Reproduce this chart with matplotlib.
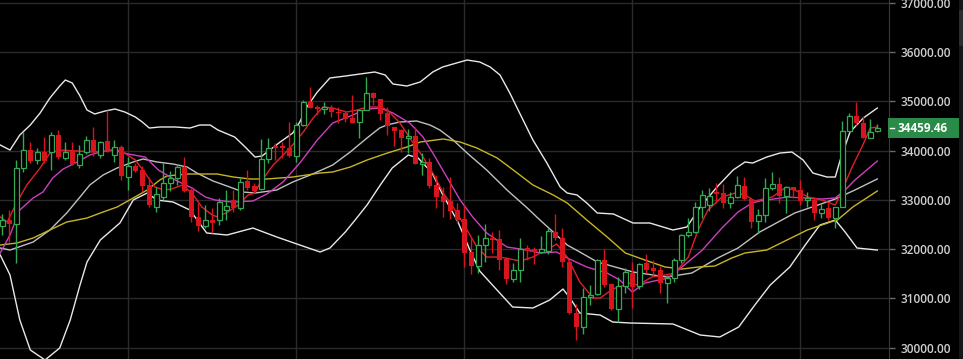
import matplotlib.pyplot as plt
from matplotlib.patches import Rectangle

# candles, one per session
opens = [32471, 32593, 32512, 33649, 34014, 33811, 33974, 33974, 34319, 33852,
         33994, 33710, 33974, 34218, 33913, 34197, 33913, 34075, 33466, 33690,
         33608, 33304, 32857, 33060, 33344, 33446, 33669, 33202, 32654, 32471,
         32593, 32593, 32796, 32999, 32836, 33385, 33283, 33222, 33832, 34096,
         34096, 34055, 33893, 34522, 34989, 34888, 34857, 34867, 34786, 34766,
         34664, 34583, 34827, 35172, 35050, 34766, 34482, 34421, 34268, 34299,
         33730, 33771, 33304, 33080, 32979, 32796, 32613, 31943, 31658, 32085,
         32227, 32207, 31801, 31394, 31577, 32024, 32004, 31943, 31963, 32349,
         32227, 31740, 30704, 30420, 31029, 31090, 31780, 31293, 30785, 31252,
         31516, 31252, 31719, 31618, 31577, 31313, 31415, 31780, 32288, 32349,
         32857, 32897, 33161, 33141, 32938, 33060, 33283, 33019, 32572, 32694,
         33243, 33324, 33080, 33263, 33202, 32999, 32999, 32735, 32836, 32633,
         32857, 34400, 34705, 34563, 34258, 34400]
highs = [32715, 32796, 33811, 34380, 34177, 34055, 34278, 34380, 34421, 34177,
         34177, 34116, 34299, 34482, 34197, 34827, 34218, 34116, 33872, 33750,
         33690, 33466, 33263, 33750, 33588, 33730, 33872, 33243, 32938, 32897,
         32836, 33040, 33202, 33202, 33446, 33608, 33344, 34238, 34258, 34157,
         34177, 34583, 34583, 35030, 35294, 34928, 34989, 34928, 34888, 34807,
         35132, 34827, 35497, 35192, 35050, 34888, 34482, 34441, 34441, 34482,
         33953, 33852, 33507, 33263, 33466, 32938, 32897, 32248, 32288, 32512,
         32349, 32390, 31841, 31719, 32227, 32085, 32044, 32268, 32430, 32715,
         32430, 31780, 30887, 31211, 31272, 31801, 32004, 31313, 31435, 31618,
         31740, 31719, 31902, 31780, 31658, 31476, 31821, 32308, 32633, 32958,
         33202, 33243, 33344, 33324, 33161, 33486, 33466, 33019, 32816, 33446,
         33568, 33466, 33283, 33263, 33405, 33161, 33060, 32938, 32938, 32857,
         34604, 34766, 34989, 34705, 34644, 34543]
lows = [32288, 32146, 31719, 33568, 33750, 33730, 33750, 33608, 33832, 33811,
        33710, 33649, 33933, 33893, 33852, 33974, 33771, 33405, 33202, 33568,
        33161, 32857, 32755, 32999, 33182, 33304, 33161, 32552, 32369, 32430,
        32329, 32491, 32593, 32755, 32796, 33202, 33141, 33202, 33750, 33811,
        33852, 33872, 33771, 34502, 34867, 34725, 34746, 34685, 34563, 34583,
        34553, 34258, 34827, 34928, 34624, 34319, 34096, 33974, 33953, 33730,
        33507, 33243, 32836, 32654, 32613, 32532, 31638, 31496, 31516, 31740,
        31923, 31577, 31293, 31333, 31333, 31780, 31699, 31923, 31902, 32187,
        31638, 30684, 30156, 30278, 30866, 31069, 31232, 30765, 30521, 31110,
        30806, 31191, 31516, 31476, 31110, 30907, 31333, 31719, 32248, 32329,
        32633, 32776, 32938, 32836, 32836, 33040, 32999, 32430, 32329, 32552,
        33202, 32938, 32735, 33040, 32897, 32857, 32593, 32633, 32593, 32430,
        32857, 34380, 34522, 34258, 34258, 34380]
closes = [32593, 32512, 33649, 34014, 33791, 33974, 33791, 34319, 33872, 33974,
          33730, 33933, 34218, 33974, 34177, 34014, 34075, 33486, 33690, 33588,
          33283, 32897, 33121, 33344, 33446, 33669, 33182, 32654, 32471, 32593,
          32532, 32958, 32877, 32836, 33365, 33243, 33182, 33832, 34055, 34055,
          34055, 33893, 34522, 34989, 34867, 34857, 34888, 34786, 34756, 34644,
          34563, 34827, 35172, 35071, 34746, 34502, 34400, 34268, 34299, 33740,
          33771, 33283, 33060, 32958, 32776, 32593, 31923, 31658, 32085, 32227,
          32187, 31780, 31394, 31577, 32004, 31963, 31943, 32004, 32369, 32227,
          31740, 30704, 30420, 31029, 31069, 31780, 31272, 30785, 31252, 31537,
          31232, 31699, 31577, 31557, 31313, 31415, 31780, 32288, 32349, 32857,
          33101, 33080, 33121, 32938, 33060, 33304, 33019, 32552, 32694, 33243,
          33324, 33080, 33263, 33202, 32979, 33040, 32735, 32816, 32633, 32857,
          34400, 34705, 34563, 34258, 34380, 34459.46]

# indicator lines, sampled at candle positions
upper_x = [-0.3, 1.1, 2.5, 4.0, 5.4, 6.8, 8.2, 9.0, 10.0, 11.1, 12.1, 13.2, 14.7, 16.1, 17.5,
           19.0, 20.0, 21.0, 22.5, 24.7, 26.8, 28.2, 29.7, 30.8, 33.2, 34.7, 36.1, 37.1,
           39.7, 41.5, 42.5, 43.5, 45.0, 46.8, 49.0, 51.1, 53.2, 54.7, 55.8, 57.8, 59.7,
           61.5, 62.9, 65.4, 66.4, 68.2, 69.7, 71.1, 72.5, 73.9, 75.8, 77.8, 79.7, 80.7,
           82.1, 83.5, 85.0, 87.3, 90.1, 92.5, 95.8, 97.8, 99.7, 102.1, 104.4, 106.1,
           107.2, 109.2, 111.1, 112.8, 114.4, 115.8, 117.8, 119.0, 119.7, 121.1, 123.0, 125.0]
upper_y = [34116, 34014, 34319, 34522, 34766, 35071, 35314, 35436, 35375, 35111, 34827, 34746,
           34807, 34847, 34786, 34685, 34583, 34461, 34482, 34482, 34461, 34522, 34522, 34421,
           34278, 34075, 33872, 33893, 34177, 34360, 34583, 34888, 35192, 35477, 35517, 35558,
           35599, 35538, 35355, 35314, 35396, 35599, 35700, 35802, 35842, 35802, 35700, 35538,
           35172, 34766, 34218, 33750, 33263, 33141, 33101, 32938, 32735, 32715, 32532, 32532,
           32390, 32451, 32857, 33263, 33608, 33771, 33750, 33872, 33953, 33974, 33811, 33547,
           33466, 33466, 33811, 34380, 34664, 34867]

mid_x = [-0.3, 1.1, 4.4, 6.8, 9.2, 11.1, 12.5, 14.4, 16.4, 18.7, 20.1, 22.1, 24.4, 26.4, 27.8,
         30.1, 32.5, 34.4, 36.1, 39.2, 41.5, 44.0, 47.2, 49.7, 52.1, 53.9, 54.9, 56.8, 59.2,
         61.1, 62.5, 64.4, 66.4, 69.2, 72.1, 75.0, 76.8, 78.7, 80.7, 82.5, 85.0, 90.1, 94.9,
         98.5, 102.2, 105.1, 108.2, 113.2, 119.0, 121.8, 125.0]
mid_y = [32024, 31983, 32146, 32390, 32735, 33060, 33304, 33507, 33649, 33771, 33832, 33771,
         33730, 33669, 33547, 33385, 33263, 33161, 33141, 33202, 33365, 33507, 33710, 33974,
         34258, 34461, 34522, 34583, 34604, 34522, 34421, 34218, 33953, 33608, 33202, 32836,
         32593, 32349, 32085, 31943, 31740, 31537, 31435, 31516, 31821, 32024, 32349, 32735,
         33019, 33202, 33426]

lower_x = [-0.3, 1.1, 2.5, 4.0, 6.1, 8.2, 9.7, 11.1, 12.1, 14.0, 16.8, 18.7, 20.7, 22.1, 24.4,
           26.8, 29.2, 32.1, 35.8, 39.2, 42.5, 45.4, 46.8, 49.0, 50.4, 52.1, 54.0, 55.7, 58.0,
           59.4, 61.4, 62.8, 65.1, 66.8, 68.2, 70.8, 72.9, 75.8, 78.2, 80.1, 81.1, 82.5, 85.4,
           87.2, 89.7, 95.8, 99.7, 102.5, 105.2, 107.5, 109.7, 112.5, 114.7, 116.8, 119.0,
           120.4, 122.1, 125.0]
lower_y = [31882, 31476, 30562, 29953, 29750, 29993, 30562, 31272, 31740, 32187, 32532, 32999,
           33141, 32999, 32958, 32796, 32329, 32288, 32430, 32248, 32085, 31943, 32024, 32349,
           32593, 32897, 33304, 33649, 33913, 33852, 33547, 33141, 32552, 31983, 31557, 31151,
           30826, 30806, 30968, 31191, 31008, 30704, 30663, 30521, 30501, 30481, 30257, 30217,
           30420, 30866, 31272, 31638, 32085, 32491, 32593, 32349, 32024, 31983]

ma50_x = [-0.3, 2.1, 4.4, 6.8, 9.2, 12.1, 14.0, 16.4, 18.7, 20.7, 22.5, 23.5, 26.4, 30.7, 33.0,
          35.4, 37.8, 41.5, 45.4, 47.2, 49.7, 52.1, 55.0, 57.8, 59.7, 63.0, 65.4, 67.8, 70.7,
          73.0, 75.8, 78.7, 80.7, 83.5, 86.4, 89.0, 91.8, 94.7, 97.1, 99.4, 101.8, 104.2,
          106.1, 109.2, 112.1, 115.0, 118.3, 119.3, 121.5, 125.0]
ma50_y = [32085, 32126, 32227, 32390, 32552, 32633, 32735, 32857, 33040, 33202, 33405, 33486,
          33527, 33527, 33466, 33426, 33426, 33466, 33547, 33568, 33669, 33811, 33953, 34075,
          34177, 34238, 34177, 34055, 33852, 33608, 33304, 33101, 32938, 32593, 32248, 31923,
          31780, 31638, 31597, 31638, 31658, 31821, 31923, 31983, 32187, 32390, 32552, 32593,
          32857, 33182]

ma10_x = [-0.3, 1.1, 2.5, 4.4, 5.8, 7.2, 8.7, 10.7, 12.5, 14.0, 15.8, 18.0, 20.4, 22.3, 24.7,
          27.1, 29.0, 30.4, 32.8, 35.8, 37.8, 40.1, 42.5, 45.0, 47.2, 49.7, 52.1, 54.0, 55.8,
          58.2, 60.1, 61.5, 63.5, 65.4, 67.2, 69.2, 72.1, 75.0, 76.8, 79.2, 80.7, 83.5, 86.4,
          88.2, 90.0, 91.8, 95.1, 97.1, 100.0, 102.8, 105.1, 107.1, 108.2, 112.2, 114.7,
          117.1, 119.0, 120.4, 121.8, 125.0]
ma10_y = [31923, 32288, 32796, 33040, 33161, 33446, 33629, 33771, 33913, 33974, 34014, 33933,
          33872, 33608, 33405, 33243, 33060, 32999, 32958, 32979, 33121, 33365, 33750, 34218,
          34563, 34705, 34847, 34867, 34766, 34563, 34278, 33953, 33466, 32999, 32654, 32329,
          32044, 31983, 31923, 31943, 31821, 31638, 31516, 31374, 31130, 31313, 31415, 31638,
          31983, 32430, 32755, 32938, 32979, 33060, 33040, 33019, 33040, 33202, 33405, 33791]

ma5_x = [-0.3, 0.7, 2.1, 3.5, 5.4, 6.8, 8.2, 10.7, 13.0, 15.0, 16.1, 17.2, 19.0, 20.4, 21.8,
         23.2, 24.2, 25.7, 27.1, 28.5, 30.0, 30.8, 32.2, 33.7, 35.1, 36.1, 36.8, 38.7, 41.1,
         43.0, 44.4, 45.8, 47.2, 49.2, 50.7, 52.1, 54.0, 55.0, 56.8, 58.7, 60.1, 61.5, 63.0,
         64.4, 66.4, 67.8, 69.2, 71.1, 74.0, 75.8, 78.2, 79.2, 80.7, 82.5, 84.4, 85.4, 87.2,
         89.7, 90.8, 92.8, 94.7, 96.1, 98.0, 99.4, 100.8, 102.8, 104.7, 106.1, 107.5, 110.0,
         111.8, 113.2, 115.1, 117.1, 119.0, 120.0, 121.4, 122.8, 124.0, 125.0]
ma5_y = [32654, 32552, 32958, 33304, 33649, 33953, 34014, 33994, 33974, 33994, 34035, 33974,
         33811, 33547, 33263, 33202, 33222, 33304, 33141, 32857, 32694, 32654, 32755, 32897,
         33101, 33141, 33344, 33710, 34055, 34380, 34664, 34888, 34867, 34786, 34827, 34888,
         34888, 34827, 34563, 34157, 33872, 33547, 33141, 32857, 32390, 32044, 31841, 31841,
         31760, 31841, 32024, 32105, 31841, 31333, 31008, 31008, 31191, 31313, 31272, 31435,
         31476, 31516, 31841, 32390, 32796, 33060, 33141, 33101, 32979, 33060, 33243, 33202,
         33060, 32999, 32897, 33202, 33669, 34075, 34461, 34482]

y_ticks = [30000, 31000, 32000, 33000, 34000, 35000, 36000, 37000]

GREEN = '#34a853'
RED = '#d8141c'

fig = plt.figure(figsize=(9.63, 3.59), dpi=100, facecolor='black')
ax = fig.add_axes([0, 0, 889 / 963, 1])
ax.set_facecolor('black')

n = len(closes)
xs = list(range(n))

# grid
for t in y_ticks:
    ax.axhline(t, color='#2a2a2a', lw=1, zorder=0)
for g in [18, 42, 66, 90, 114]:
    ax.axvline(g, color='#2a2a2a', lw=1, zorder=0)

# indicators
ax.plot(upper_x, upper_y, color='#e8e8e8', lw=1, zorder=2)
ax.plot(lower_x, lower_y, color='#e8e8e8', lw=1, zorder=2)
ax.plot(mid_x, mid_y, color='#c0c0c0', lw=1, zorder=2)
ax.plot(ma50_x, ma50_y, color='#c8b424', lw=1, zorder=2)
ax.plot(ma10_x, ma10_y, color='#cc3fbf', lw=1, zorder=2)
ax.plot(ma5_x, ma5_y, color='#e0202a', lw=1, zorder=2)

# candles
w = 0.7
for i in xs:
    o, h, l, c = opens[i], highs[i], lows[i], closes[i]
    top, bot = max(o, c), min(o, c)
    if c >= o:
        ax.vlines(i, top, h, color=GREEN, lw=1, zorder=3)
        ax.vlines(i, l, bot, color=GREEN, lw=1, zorder=3)
        ax.bar(i, max(top - bot, 15), bottom=bot, width=w, facecolor='black',
               edgecolor=GREEN, linewidth=0.9, zorder=4)
    else:
        ax.vlines(i, l, h, color=RED, lw=1, zorder=3)
        ax.bar(i, max(top - bot, 30), bottom=bot, width=w + 0.08, color=RED,
               linewidth=0, zorder=4)

ax.set_xlim(-0.33, 126.67)
ax.set_ylim(29770, 37061)

ax.yaxis.tick_right()
ax.set_yticks(y_ticks)
ax.set_yticklabels(['%.2f' % t for t in y_ticks], fontfamily='Open Sans',
                   fontweight='semibold', fontsize=8.5, color='#cfcfcf')
ax.tick_params(axis='y', length=4, width=1, color='#6a6a6a', pad=4)
ax.set_xticks([])
for s in ['top', 'left', 'bottom']:
    ax.spines[s].set_visible(False)
ax.spines['right'].set_color('#3a3a3a')

# last price tag
last = closes[-1]
tr = ax.get_yaxis_transform()
ax.add_patch(Rectangle((0.9989, last - 203), 0.0798, 406, transform=tr,
                       facecolor='#2a8a48', edgecolor='none', clip_on=False, zorder=5))
ax.plot([1.0015, 1.0055], [last, last], transform=tr, color='white', lw=1,
        clip_on=False, zorder=6)
ax.text(1.0095, last, '%.2f' % last, transform=tr, color='white', fontsize=8.5,
        fontfamily='Open Sans', fontweight='bold', va='center', ha='left', zorder=6)

# scrollbar strip at the right edge
fig.patches.append(Rectangle((959 / 963, 0), 4 / 963, 1, transform=fig.transFigure,
                             facecolor='#161616', edgecolor='none'))
fig.patches.append(Rectangle((959 / 963, 1 - 46 / 359), 4 / 963, 36 / 359,
                             transform=fig.transFigure, facecolor='#2c2c2c', edgecolor='none'))

fig.savefig('out.png', dpi=100, facecolor='black')
